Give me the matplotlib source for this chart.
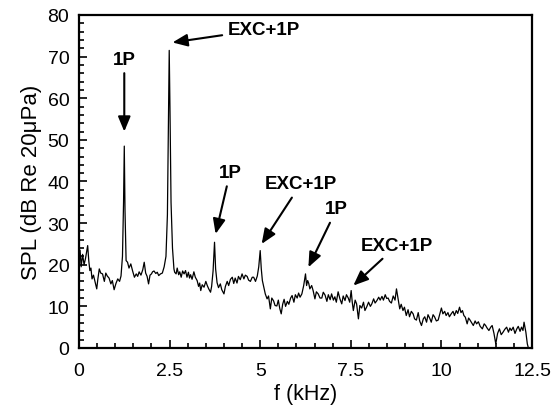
import matplotlib.pyplot as plt
from matplotlib.ticker import MultipleLocator

plt.rcParams['font.family'] = ['Liberation Sans', 'DejaVu Sans']

# --- 측정 스펙트럼 (주파수 kHz, SPL dB) ---
freq_khz = [
    0.00, 0.03, 0.06, 0.10, 0.14, 0.18, 0.24, 0.27, 0.30, 0.33, 0.36, 0.40, 0.44, 0.49,
    0.52, 0.56, 0.60, 0.65, 0.70, 0.74, 0.78, 0.83, 0.88, 0.92, 0.97, 1.02, 1.07, 1.12,
    1.16, 1.20, 1.23, 1.25, 1.27, 1.30, 1.34, 1.38, 1.43, 1.48, 1.53, 1.58, 1.62, 1.66,
    1.71, 1.76, 1.80, 1.84, 1.88, 1.92, 1.96, 2.00, 2.03, 2.07, 2.12, 2.16, 2.20, 2.25,
    2.30, 2.35, 2.40, 2.44, 2.47, 2.49, 2.51, 2.54, 2.58, 2.62, 2.64, 2.68, 2.71, 2.75,
    2.78, 2.82, 2.86, 2.90, 2.94, 2.98, 3.02, 3.05, 3.08, 3.12, 3.17, 3.21, 3.26, 3.30,
    3.33, 3.36, 3.40, 3.45, 3.50, 3.54, 3.58, 3.63, 3.66, 3.70, 3.74, 3.77, 3.81, 3.85,
    3.90, 3.94, 4.00, 4.04, 4.09, 4.13, 4.18, 4.23, 4.27, 4.31, 4.36, 4.40, 4.45, 4.50,
    4.55, 4.59, 4.64, 4.68, 4.73, 4.78, 4.82, 4.87, 4.92, 4.96, 5.00, 5.03, 5.06, 5.09,
    5.14, 5.19, 5.23, 5.28, 5.32, 5.37, 5.41, 5.46, 5.50, 5.54, 5.58, 5.62, 5.66, 5.70,
    5.75, 5.79, 5.84, 5.88, 5.93, 5.97, 6.02, 6.06, 6.10, 6.15, 6.20, 6.25, 6.28, 6.31,
    6.34, 6.37, 6.42, 6.46, 6.51, 6.55, 6.60, 6.65, 6.70, 6.74, 6.79, 6.84, 6.88, 6.93,
    6.97, 7.02, 7.06, 7.10, 7.15, 7.20, 7.25, 7.29, 7.34, 7.38, 7.43, 7.47, 7.51, 7.54,
    7.57, 7.62, 7.66, 7.71, 7.75, 7.80, 7.85, 7.89, 7.94, 7.99, 8.04, 8.08, 8.13, 8.17,
    8.22, 8.27, 8.31, 8.36, 8.40, 8.45, 8.49, 8.53, 8.57, 8.62, 8.67, 8.72, 8.76, 8.80,
    8.85, 8.89, 8.94, 8.98, 9.03, 9.08, 9.12, 9.17, 9.22, 9.26, 9.31, 9.36, 9.40, 9.45,
    9.50, 9.54, 9.59, 9.63, 9.68, 9.72, 9.77, 9.81, 9.86, 9.91, 9.95, 10.00, 10.04, 10.09,
    10.13, 10.18, 10.22, 10.27, 10.32, 10.36, 10.41, 10.45, 10.50, 10.54, 10.58, 10.62,
    10.66, 10.71, 10.75, 10.79, 10.84, 10.88, 10.93, 10.97, 11.02, 11.07, 11.13, 11.18,
    11.22, 11.26, 11.31, 11.36, 11.40, 11.45, 11.50, 11.55, 11.60, 11.65, 11.70, 11.75,
    11.80, 11.85, 11.89, 11.93, 11.98, 12.03, 12.08, 12.12, 12.17, 12.21, 12.25, 12.28,
    12.33, 12.37, 12.40,
]
spl_db = [
    20.5, 23.5, 19.5, 22.5, 20.0, 21.5, 24.6, 21.0, 18.6, 19.2, 16.6, 17.5, 16.0, 14.2,
    16.5, 19.0, 18.0, 17.8, 16.0, 18.0, 17.3, 16.8, 15.4, 16.2, 14.0, 15.5, 16.6, 16.0,
    17.3, 22.0, 35.0, 48.5, 33.0, 21.0, 20.6, 19.2, 20.2, 18.5, 17.0, 17.8, 17.2, 18.3,
    17.5, 18.8, 20.6, 18.0, 17.2, 15.4, 17.5, 17.8, 18.3, 18.5, 17.9, 18.2, 17.4, 17.8,
    18.0, 19.5, 22.0, 32.0, 55.0, 71.5, 58.0, 35.0, 24.0, 19.0, 18.2, 17.8, 19.2, 17.6,
    18.3, 17.0, 18.5, 17.8, 18.6, 17.0, 18.2, 16.8, 17.6, 16.5, 18.3, 17.0, 16.2, 14.8,
    15.6, 13.8, 15.2, 14.6, 16.0, 15.0, 14.2, 13.4, 14.8, 18.5, 25.4, 19.0, 15.7, 14.5,
    15.4, 14.0, 13.0, 14.8, 16.0, 15.0, 16.5, 17.0, 15.5, 16.8, 15.6, 17.2, 16.4, 17.8,
    16.6, 17.5, 17.2, 16.3, 16.0, 17.0, 17.0, 16.0, 17.3, 19.5, 23.4, 19.0, 16.2, 15.0,
    13.0, 11.8, 12.5, 9.4, 12.0, 11.3, 10.2, 10.1, 11.5, 9.5, 8.2, 10.5, 11.7, 10.0,
    11.2, 10.5, 12.0, 12.6, 11.0, 12.8, 12.0, 13.2, 12.2, 13.0, 15.0, 17.8, 15.0, 16.2,
    15.5, 14.2, 15.0, 13.8, 11.8, 13.5, 13.0, 12.0, 12.0, 13.4, 12.7, 11.2, 12.8, 11.6,
    13.0, 11.5, 12.3, 11.0, 13.5, 11.8, 10.6, 12.5, 11.4, 12.8, 12.0, 11.0, 13.8, 11.0,
    9.0, 11.5, 10.6, 7.0, 10.2, 9.6, 11.0, 9.0, 9.9, 11.0, 10.0, 10.6, 11.8, 10.8,
    11.4, 12.2, 11.5, 12.4, 11.5, 12.8, 11.9, 12.0, 11.2, 10.8, 12.5, 11.5, 14.2, 12.0,
    9.4, 10.5, 9.0, 9.8, 7.8, 9.2, 7.5, 8.8, 8.2, 7.0, 6.7, 8.5, 6.5, 5.4,
    7.0, 7.5, 6.2, 8.0, 7.1, 6.2, 8.0, 7.5, 6.5, 6.7, 8.0, 9.6, 8.2, 8.8,
    7.8, 8.5, 7.5, 8.2, 8.8, 7.8, 9.0, 8.3, 9.8, 8.5, 9.0, 7.8,
    7.4, 5.8, 7.2, 6.7, 6.0, 5.4, 6.5, 5.8, 6.3, 5.2, 4.6, 5.8,
    5.4, 4.8, 4.2, 5.0, 5.4, 3.5, 1.0, 3.5, 4.6, 3.2, 3.8, 4.5,
    5.0, 3.8, 4.8, 4.2, 5.0, 3.5, 4.6, 5.2, 4.0, 5.0, 4.2, 6.2,
    3.8, 1.0, 0.0,
]

# --- 피크 주석: (텍스트, 화살표 끝 위치, 텍스트 위치) ---
peak_labels = ['1P', 'EXC+1P', '1P', 'EXC+1P', '1P', 'EXC+1P']
arrow_tip = [(1.25, 52.0), (2.58, 73.4), (3.77, 27.4), (5.04, 25.0), (6.33, 19.4), (7.57, 15.0)]
label_pos = [(1.25, 69.4), (5.10, 76.6), (4.17, 42.2), (6.12, 39.4), (7.11, 33.4), (8.77, 24.6)]
x_ticks = [0, 2.5, 5, 7.5, 10, 12.5]
x_tick_labels = ['0', '2.5', '5', '7.5', '10', '12.5']

fig = plt.figure(figsize=(5.55, 4.10), dpi=100)
ax = fig.add_axes([0.1423, 0.1488, 0.8163, 0.8122])

ax.plot(freq_khz, spl_db, color='black', linewidth=0.9)

for text, tip, pos in zip(peak_labels, arrow_tip, label_pos):
    ax.annotate(text, xy=tip, xytext=pos, ha='center', va='center',
                fontsize=13.5, fontweight='bold',
                arrowprops=dict(arrowstyle='-|>,head_length=0.6,head_width=0.25',
                                mutation_scale=15, color='black', lw=1.5,
                                shrinkA=2, shrinkB=0))

ax.set_xlim(0, 12.5)
ax.set_ylim(0, 80)
ax.set_xticks(x_ticks)
ax.set_xticklabels(x_tick_labels)
ax.xaxis.set_minor_locator(MultipleLocator(0.5))
ax.yaxis.set_major_locator(MultipleLocator(10))
ax.yaxis.set_minor_locator(MultipleLocator(2))
ax.tick_params(which='both', direction='in', top=False, right=False, labelsize=14, width=1.2)
ax.tick_params(which='major', length=6)
ax.tick_params(which='minor', length=3.5)
ax.tick_params(axis='x', which='major', pad=10)
ax.tick_params(axis='y', which='major', pad=7)
for side in ax.spines.values():
    side.set_linewidth(1.6)

ax.set_xlabel('f (kHz)', fontsize=15.5, labelpad=3)
ax.set_ylabel('SPL (dB Re 20μPa)', fontsize=16, labelpad=4)

fig.savefig('out.png', dpi=100)
